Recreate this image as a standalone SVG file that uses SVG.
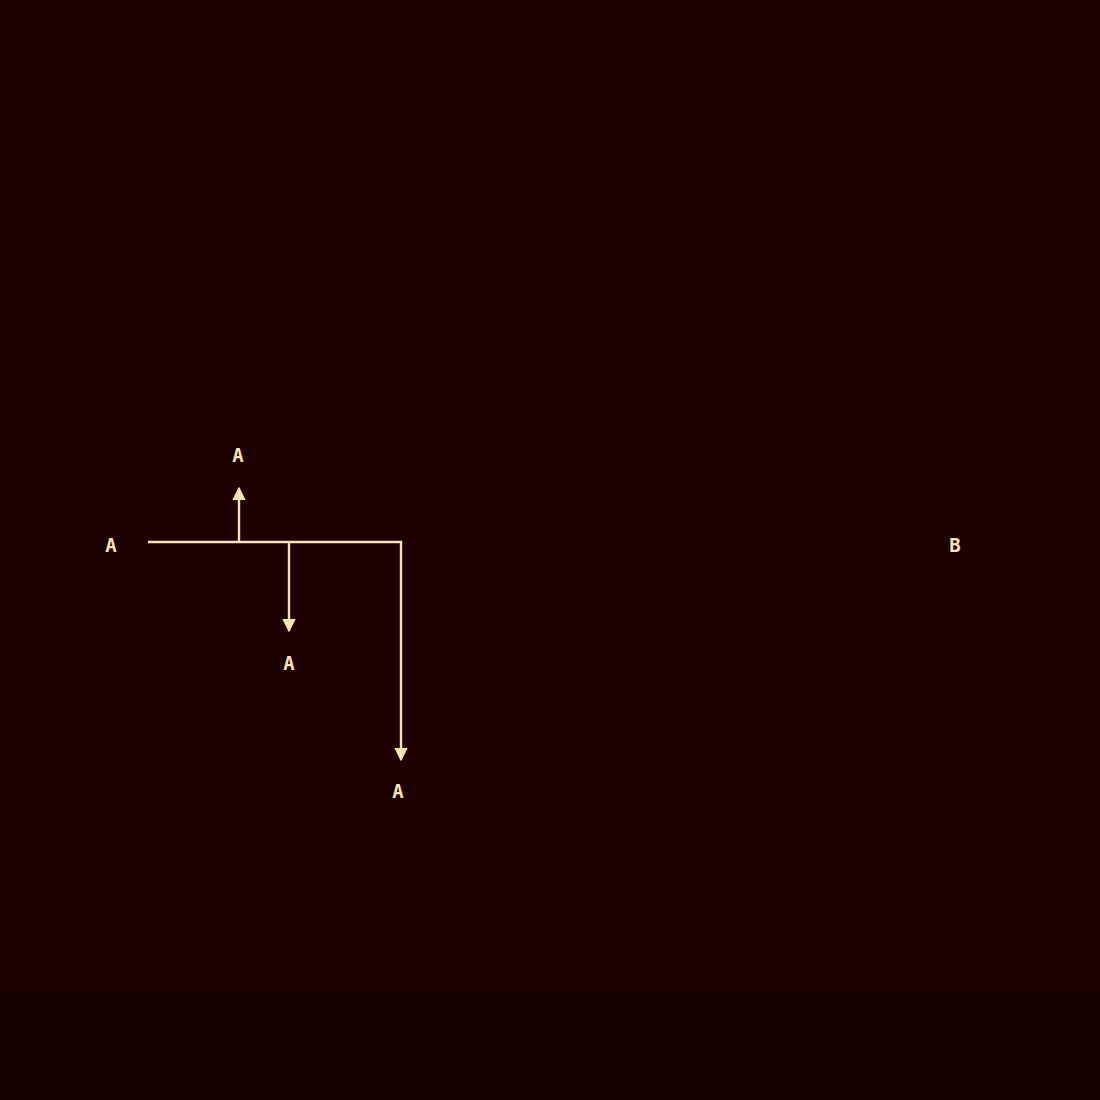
<svg xmlns="http://www.w3.org/2000/svg" width="1100" height="1100" viewBox="0 0 1100 1100">
<style>
.lbl{font-family:"DejaVu Sans Mono","Liberation Mono",monospace;font-size:19px;font-weight:bold;fill:#fbe3b8;text-anchor:middle;dominant-baseline:central}
.edge{fill:none;stroke:#fbe3b8;stroke-width:2.4}
</style>
<defs>
<marker id="arr" viewBox="0 0 10 10" refX="9" refY="5" markerWidth="5.6" markerHeight="5.6" orient="auto" markerUnits="strokeWidth">
<path d="M0,0 L10,5 L0,10 z" fill="#fbe3b8"/>
</marker>
</defs>
<rect width="1100" height="1100" fill="#170000"/>
<rect width="1100" height="990" fill="#1c0002"/>
<g id="connectors">
<path class="edge" d="M148,542 H401 V760" marker-end="url(#arr)"/>
<path class="edge" d="M239,542 V488" marker-end="url(#arr)"/>
<path class="edge" d="M289,542 V631" marker-end="url(#arr)"/>
</g>
<g id="nodeA1"><text class="lbl" x="111" y="545">A</text></g>
<g id="nodeA2"><text class="lbl" x="238" y="455">A</text></g>
<g id="nodeA3"><text class="lbl" x="289" y="663">A</text></g>
<g id="nodeA4"><text class="lbl" x="398" y="791">A</text></g>
<g id="nodeB"><text class="lbl" x="955" y="545">B</text></g>
</svg>
